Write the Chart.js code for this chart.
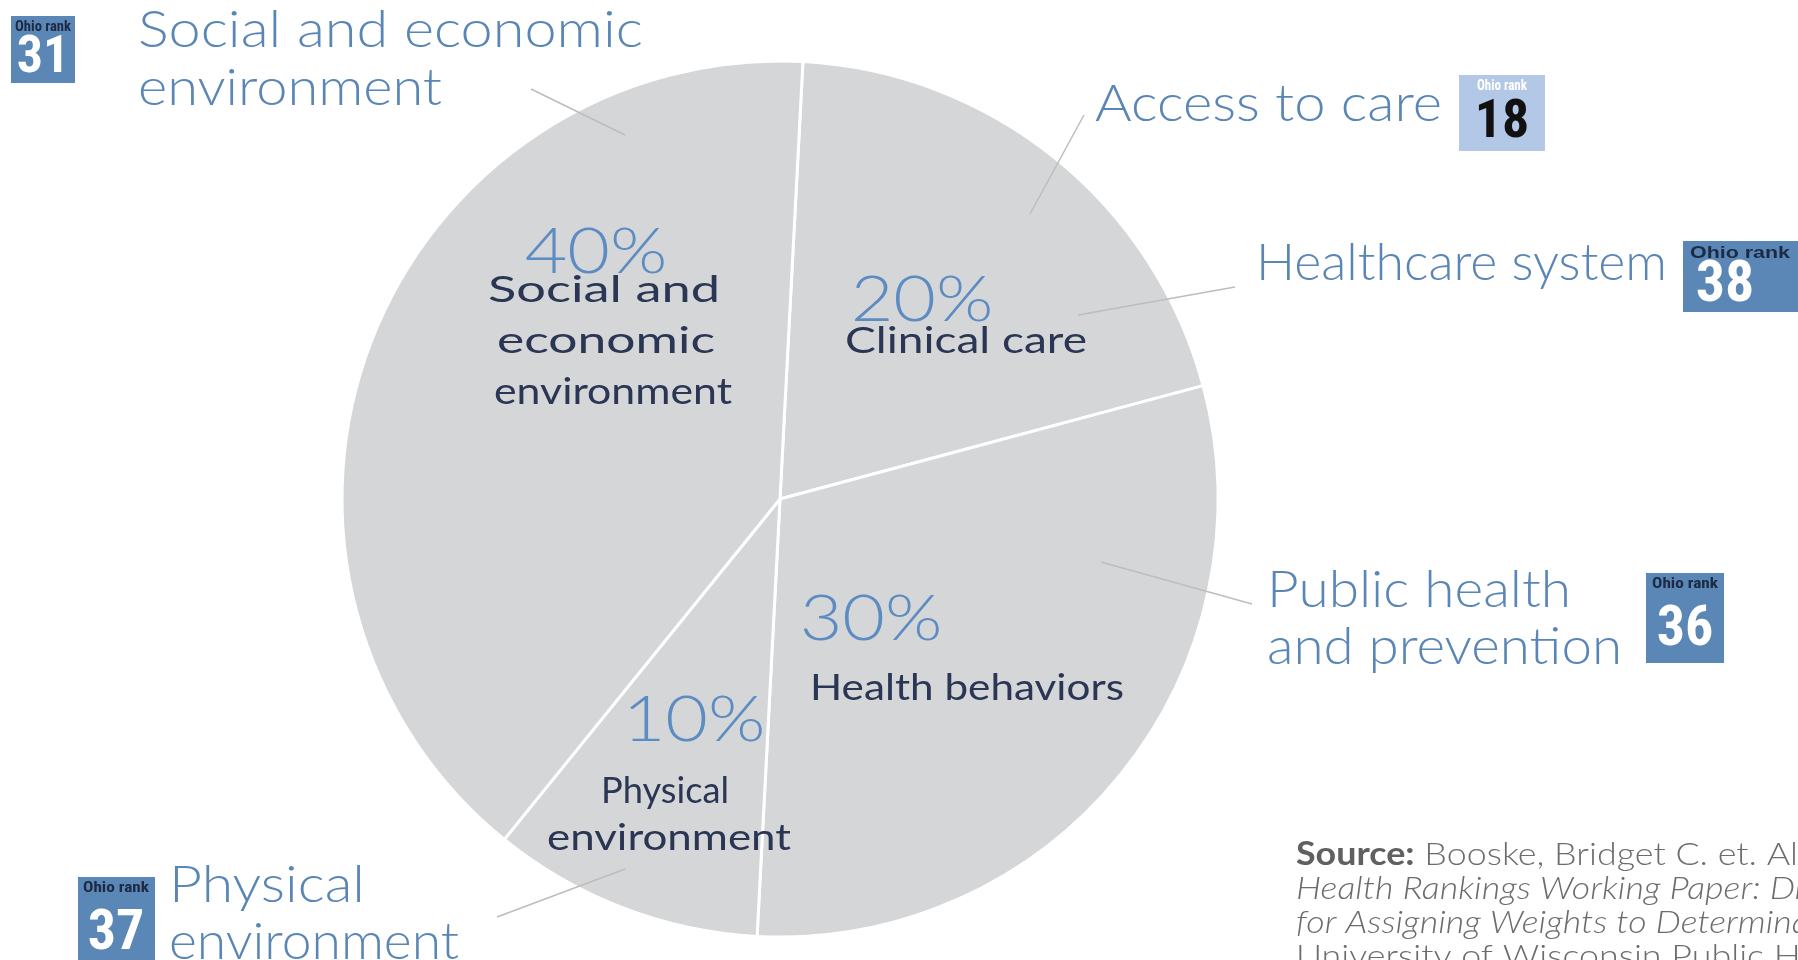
<!DOCTYPE html>
<html><head><meta charset="utf-8">
<script src="https://cdn.jsdelivr.net/npm/chart.js@4.4.0/dist/chart.umd.min.js"></script>
<style>html,body{margin:0;padding:0;background:#fff;overflow:hidden}#wrap{width:1798px;height:960px;position:relative}</style>
</head><body><div id="wrap"><canvas id="c" width="1798" height="960"></canvas></div>
<script>
// ---- data ----
const categories = ['Clinical care', 'Health behaviors', 'Physical environment', 'Social and economic environment'];
const shares = [20, 30, 10, 40];
const innerLines = [['Clinical care'], ['Health behaviors'], ['Physical', 'environment'], ['Social and', 'economic', 'environment']];
const outerNames = [['Access to care'], ['Healthcare system'], ['Public health', 'and prevention'], ['Physical', 'environment'], ['Social and economic', 'environment']];
const ohioRanks = [18, 38, 36, 37, 31];
const sourceLines = [
  [['Source:', 'bold'], [' Booske, Bridget C. et. Al. County', 'normal']],
  [['Health Rankings Working Paper: Different Perspectives', 'italic']],
  [['for Assigning Weights to Determinants of Health.', 'italic']],
  [['University of Wisconsin Public Health Institute. 2010', 'normal']]
];

// ---- layout (positions / styles only) ----
const FONT = 'Lato, "Open Sans", "DejaVu Sans", sans-serif';
const NUMFONT = '"Liberation Sans Narrow", "Roboto Condensed", Roboto, sans-serif';
const innerLayout = [
  {pct: [922, 300], lines: [[966, 341, 242]]},
  {pct: [871, 619], lines: [[967, 688, 314]]},
  {pct: [694, 720], lines: [[665, 791, 128], [669, 838, 244]]},
  {pct: [596, 252], lines: [[604, 290, 232], [606, 341, 218], [613, 392, 238]]}
];
const outerLayout = [
  {x: 1095, ys: [105], w: [347], box: [1459, 75, 86, 76], light: true, lead: [1084, 115, 1030, 214], tag: '14px ' + NUMFONT, tagW: 50, num: 54, cx: 1502, tcx: 1502},
  {x: 1256, ys: [264], w: [411], box: [1683, 241, 120, 71], light: false, lead: [1235, 287, 1078, 315], tag: '17px "Liberation Sans", Arial, sans-serif', tagW: 100, num: 58, cx: 1725, tcx: 1740},
  {x: 1267, ys: [591, 648], w: [304, 355], box: [1646, 573, 78, 90], light: false, lead: [1252, 604, 1101, 562], tag: '15px ' + NUMFONT, tagW: 66, num: 56, cx: 1685, tcx: 1685},
  {x: 169, ys: [886, 943], w: [196, 290], box: [78, 877, 77, 90], light: false, lead: [497, 917, 625, 869], tag: '15px ' + NUMFONT, tagW: 66, num: 56, cx: 116, tcx: 116},
  {x: 138, ys: [31, 89], w: [505, 304], box: [11, 16, 64, 67], light: false, lead: [531, 89, 625, 135], tag: '14px ' + NUMFONT, tagW: 56, num: 52, cx: 43, tcx: 43}
];

function fitText(ctx, text, x, y, font, color, align, sx) {
  ctx.save();
  ctx.font = font; ctx.fillStyle = color; ctx.textBaseline = 'middle';
  const m = ctx.measureText(text).width;
  sx = sx || 1;
  let x0 = x;
  if (align === 'center') x0 = x - m * sx / 2;
  ctx.translate(x0, y); ctx.scale(sx, 1);
  ctx.textAlign = 'left';
  ctx.fillText(text, 0, 0);
  ctx.restore();
}
function widthOf(ctx, text, font) { ctx.save(); ctx.font = font; const m = ctx.measureText(text).width; ctx.restore(); return m; }

const overlay = {
  id: 'overlay',
  afterDatasetsDraw(chart) {
    const ctx = chart.ctx;
    shares.forEach((v, i) => {
      const L = innerLayout[i];
      fitText(ctx, v + '%', L.pct[0], L.pct[1], '300 64px ' + FONT, '#5d8cc2', 'center', 1.15);
      innerLines[i].forEach((t, k) => {
        const f = '37px ' + FONT;
        const [x, y, w] = L.lines[k];
        fitText(ctx, t, x, y, f, '#2a3653', 'center', w / widthOf(ctx, t, f));
      });
    });
    outerNames.forEach((lines, i) => {
      const L = outerLayout[i];
      ctx.save();
      ctx.strokeStyle = '#bdbdbd'; ctx.lineWidth = 1.5;
      ctx.beginPath(); ctx.moveTo(L.lead[0], L.lead[1]); ctx.lineTo(L.lead[2], L.lead[3]); ctx.stroke();
      ctx.restore();
      lines.forEach((t, k) => {
        const f = '300 51px ' + FONT;
        fitText(ctx, t, L.x, L.ys[k], f, '#5a86b6', 'left', L.w[k] / widthOf(ctx, t, f));
      });
      const [bx, by, bw, bh] = L.box;
      ctx.save();
      ctx.fillStyle = L.light ? '#b3c8e6' : '#5b87b6';
      ctx.fillRect(bx, by, bw, bh);
      ctx.restore();
      const tf = 'bold ' + L.tag;
      const tsize = parseFloat(L.tag);
      fitText(ctx, 'Ohio rank', L.tcx, by + 4 + tsize * 0.5, tf, L.light ? '#ffffff' : '#1c2a44', 'center', L.tagW / widthOf(ctx, 'Ohio rank', tf));
      fitText(ctx, String(ohioRanks[i]), L.cx, by + bh * 0.64, 'bold ' + L.num + 'px ' + NUMFONT, L.light ? '#111111' : '#ffffff', 'center', 1);
    });
    sourceLines.forEach((parts, k) => {
      let x = 1296; const y = 855 + k * 34;
      parts.forEach(([t, st]) => {
        const f = (st === 'bold' ? 'bold ' : st === 'italic' ? 'italic 300 ' : '300 ') + '32px ' + FONT;
        const w = widthOf(ctx, t, f);
        fitText(ctx, t, x, y, f, st === 'bold' ? '#606060' : '#6c6c6c', 'left', 1.12);
        x += w * 1.12;
      });
    });
  }
};

new Chart(document.getElementById('c'), {
  type: 'pie',
  data: {
    labels: categories,
    datasets: [{data: shares, backgroundColor: '#d5d6d8', borderColor: '#ffffff', borderWidth: 3, hoverOffset: 0}]
  },
  options: {
    responsive: false,
    animation: false,
    rotation: 3,
    radius: 438,
    layout: {padding: {left: 0, right: 238, top: 38, bottom: 0}},
    plugins: {legend: {display: false}, tooltip: {enabled: false}}
  },
  plugins: [overlay]
});
</script>
</body></html>
